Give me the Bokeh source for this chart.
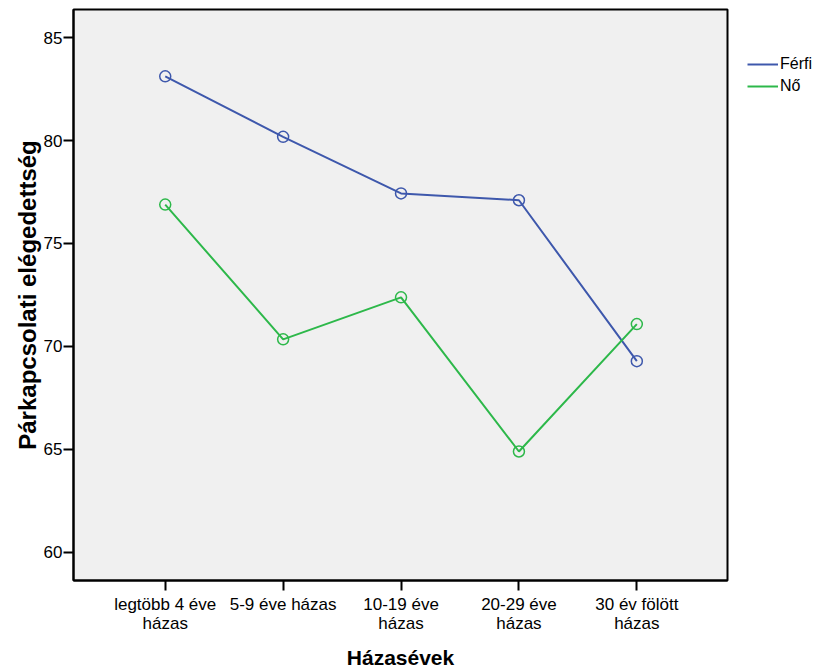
from bokeh.plotting import figure
from bokeh.models import Range1d, FixedTicker, Legend, LegendItem
from bokeh.embed import file_html
from bokeh.resources import INLINE

categories = ["legtöbb 4 éve\nházas", "5-9 éve házas", "10-19 éve\nházas",
              "20-29 éve\nházas", "30 év fölött\nházas"]
ferfi = [83.12, 80.18, 77.43, 77.10, 69.28]
no = [76.89, 70.34, 72.38, 64.89, 71.08]
y_ticks = [60, 65, 70, 75, 80, 85]

x = list(range(len(categories)))
FONT = "Liberation Sans"
BLUE = "#3E58AC"
GREEN = "#2DB84A"

p = figure(frame_width=654, frame_height=571, output_backend="svg", toolbar_location=None,
           x_range=Range1d(-0.778, 4.769), y_range=Range1d(58.62, 86.37),
           min_border_left=73, min_border_right=94, min_border_top=9, min_border_bottom=91)
p.background_fill_color = "#F0F0F0"
p.border_fill_color = "white"
p.outline_line_color = "black"
p.outline_line_width = 2
p.xgrid.visible = False
p.ygrid.visible = False

r1 = p.line(x, ferfi, line_color=BLUE, line_width=2)
c1 = p.scatter(x, ferfi, marker="circle", size=11, fill_color=None, line_color=BLUE, line_width=1.5)
r2 = p.line(x, no, line_color=GREEN, line_width=2)
c2 = p.scatter(x, no, marker="circle", size=11, fill_color=None, line_color=GREEN, line_width=1.5)

p.xaxis.ticker = FixedTicker(ticks=x)
p.xaxis.major_label_overrides = {i: c for i, c in zip(x, categories)}
p.yaxis.ticker = FixedTicker(ticks=y_ticks)

for ax in (p.xaxis[0], p.yaxis[0]):
    ax.axis_line_color = "black"
    ax.axis_line_width = 2
    ax.major_tick_line_color = "black"
    ax.major_tick_line_width = 2
    ax.major_tick_in = 0
    ax.major_tick_out = 10
    ax.minor_tick_line_color = None
    ax.major_label_text_font = FONT
    ax.major_label_text_font_size = "17px"
    ax.major_label_text_color = "black"
    ax.axis_label_text_font = FONT
    ax.axis_label_text_font_style = "bold"
    ax.axis_label_text_color = "black"

p.xaxis.axis_label = "Házasévek"
p.xaxis.axis_label_text_font_size = "21px"
p.xaxis.major_label_standoff = 4
p.xaxis.major_label_text_line_height = 1.0
p.xaxis.axis_label_standoff = 10
p.yaxis.axis_label = "Párkapcsolati elégedettség"
p.yaxis.axis_label_text_font_size = "24px"
p.yaxis.major_label_standoff = 1
p.yaxis.axis_label_standoff = 0

legend = Legend(items=[LegendItem(label="Férfi", renderers=[r1]),
                       LegendItem(label="Nő", renderers=[r2])],
                location=(20, 484), orientation="vertical",
                background_fill_alpha=0, border_line_color=None,
                padding=0, margin=0, spacing=2, glyph_width=31, glyph_height=20,
                label_standoff=2, label_text_font=FONT, label_text_font_size="16px",
                label_text_color="black", label_height=20)
p.add_layout(legend, "right")

open("out.html", "w").write(file_html(p, INLINE))
